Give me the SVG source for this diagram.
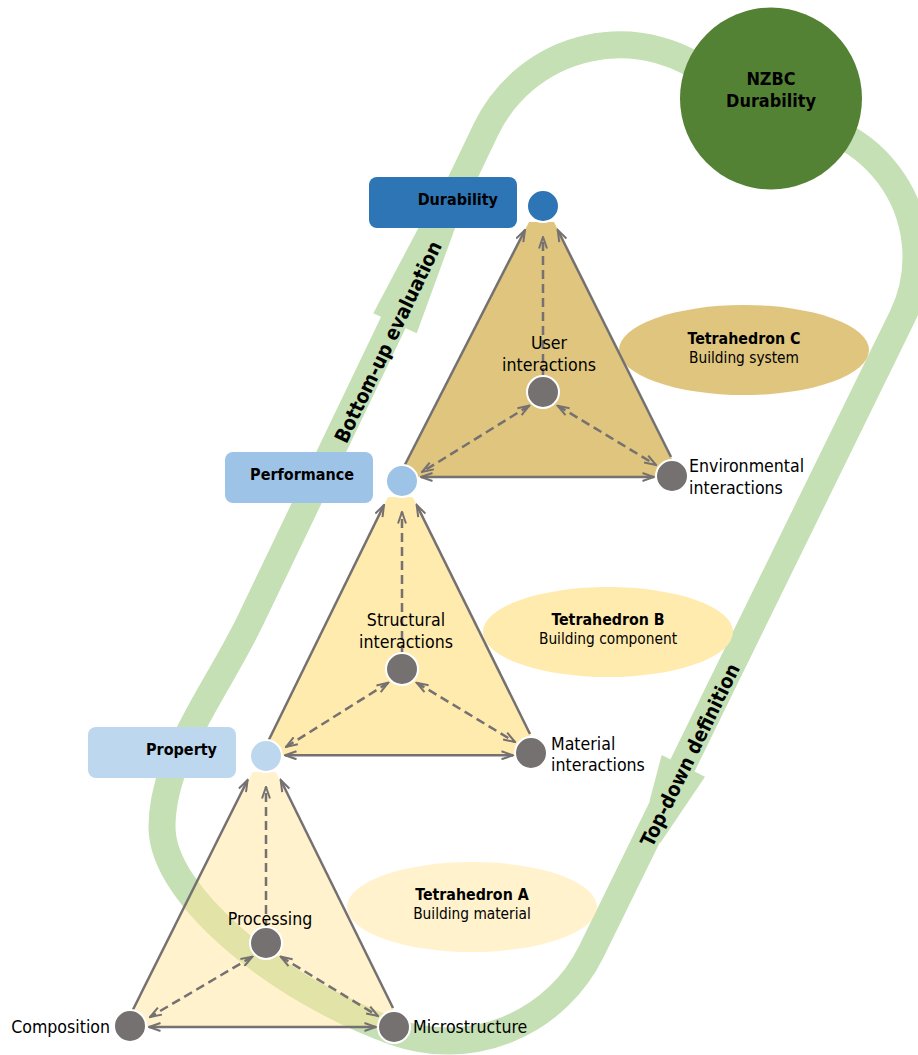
<svg xmlns="http://www.w3.org/2000/svg" width="918" height="1055" viewBox="0 0 918 1055">
<defs>
<style>
.band{fill:none;stroke:#C5E0B4;stroke-width:27;stroke-linejoin:round}
.bandfill{fill:#C5E0B4}
.edge{stroke:#767171;stroke-width:2.5;fill:none;stroke-linecap:butt}
.dash{stroke:#767171;stroke-width:2.5;fill:none;stroke-dasharray:9 5}
.gray{fill:#767171;stroke:#fff;stroke-width:2}
.t{font-family:'DejaVu Sans Condensed','DejaVu Sans',sans-serif;fill:#000}
.lbl{font-size:17.6px}
.bold{font-weight:bold}
.ellb{font-size:15.8px;font-weight:bold}
.ell{font-size:15.3px}
.box{font-size:16px;font-weight:bold;text-anchor:end}
.mid{text-anchor:middle}
.end{text-anchor:end}
</style>
<marker id="ah" viewBox="0 0 14 10" markerWidth="14" markerHeight="10" refX="12.5" refY="5" orient="auto-start-reverse" markerUnits="userSpaceOnUse">
<path d="M1,1 L12.5,5 L1,9" fill="none" stroke="#767171" stroke-width="2"/>
</marker>
</defs>

<g id="loop">
<path class="band" d="M486.1,129.2 A148.5,148.5 0 0 1 715.5,79.7 L755.2,122.1 A137,137 0 0 1 902,317.3 L591.4,951.4 A160,160 0 0 1 394,1031.7 C281,991.4 162,897 162,827 C162,757 216,692 250.6,620 Z"/>
<polygon class="bandfill" points="373.3,313.3 443.8,180 472.6,180 416.7,333.3"/>
<polygon class="bandfill" points="661.7,755 649.8,800 651,830 660.3,843 705,776.7"/>
<text class="t bold mid" font-size="20" transform="translate(388,342) rotate(-64.3)" dy="7">Bottom-up evaluation</text>
<text class="t bold mid" font-size="20" transform="translate(690,755) rotate(-63.9)" dy="7">Top-down definition</text>
</g>

<g id="tetrahedron-fills">
<polygon points="529,222 554,222 681,477 399,477" fill="#DFC57E"/>
<polygon points="387.9,497 412.7,497 540.9,756 260.9,756" fill="#FFEBAD"/>
<polygon points="252.6,772 275.8,772 402.3,1027 124.3,1027" fill="#FFE699" fill-opacity="0.5"/>
</g>

<g id="tetrahedron-C-label">
<ellipse cx="744" cy="350" rx="125" ry="45" fill="#DFC57E"/>
<text class="t ellb mid" x="744" y="344">Tetrahedron C</text>
<text class="t ell mid" x="744" y="363">Building system</text>
</g>
<g id="tetrahedron-B-label">
<ellipse cx="608" cy="632" rx="125" ry="45" fill="#FFEBAD"/>
<text class="t ellb mid" x="608" y="625">Tetrahedron B</text>
<text class="t ell mid" x="608" y="644">Building component</text>
</g>
<g id="tetrahedron-A-label">
<ellipse cx="472" cy="907" rx="125" ry="45" fill="#FFE699" fill-opacity="0.5"/>
<text class="t ellb mid" x="472" y="900">Tetrahedron A</text>
<text class="t ell mid" x="472" y="919">Building material</text>
</g>

<g id="connectors">
<line class="edge" x1="404.3" y1="466" x2="525" y2="230" marker-end="url(#ah)"/>
<line class="edge" x1="671" y1="457" x2="557.7" y2="230" marker-end="url(#ah)"/>
<line class="edge" x1="421" y1="477" x2="654" y2="477" marker-start="url(#ah)" marker-end="url(#ah)"/>
<line class="dash" x1="543" y1="377" x2="543" y2="237" marker-end="url(#ah)"/>
<line class="dash" x1="529.3" y1="405.7" x2="422" y2="472" marker-start="url(#ah)" marker-end="url(#ah)"/>
<line class="dash" x1="557.7" y1="405.7" x2="656" y2="465" marker-start="url(#ah)" marker-end="url(#ah)"/>

<line class="edge" x1="268.3" y1="741" x2="384" y2="505" marker-end="url(#ah)"/>
<line class="edge" x1="530" y1="734" x2="416.7" y2="505" marker-end="url(#ah)"/>
<line class="edge" x1="285" y1="755.3" x2="513" y2="755.3" marker-start="url(#ah)" marker-end="url(#ah)"/>
<line class="dash" x1="402" y1="654" x2="402" y2="512" marker-end="url(#ah)"/>
<line class="dash" x1="388.3" y1="682.7" x2="286" y2="747" marker-start="url(#ah)" marker-end="url(#ah)"/>
<line class="dash" x1="416.7" y1="682.7" x2="515" y2="742" marker-start="url(#ah)" marker-end="url(#ah)"/>

<line class="edge" x1="132.3" y1="1011" x2="247.6" y2="780" marker-end="url(#ah)"/>
<line class="edge" x1="393" y1="1008" x2="280.7" y2="780" marker-end="url(#ah)"/>
<line class="edge" x1="149" y1="1027" x2="376" y2="1027" marker-start="url(#ah)" marker-end="url(#ah)"/>
<line class="dash" x1="266" y1="928" x2="266" y2="787" marker-end="url(#ah)"/>
<line class="dash" x1="252.3" y1="956.7" x2="150" y2="1017" marker-start="url(#ah)" marker-end="url(#ah)"/>
<line class="dash" x1="280.7" y1="956.7" x2="378" y2="1016" marker-start="url(#ah)" marker-end="url(#ah)"/>
</g>

<g id="nzbc">
<circle cx="771" cy="98.5" r="91" fill="#548235"/>
<text class="t bold mid" font-size="17.9" x="771" y="85">NZBC</text>
<text class="t bold mid" font-size="17.9" x="771" y="107">Durability</text>
</g>

<g id="durability">
<rect x="369" y="177" width="148" height="51" rx="8" fill="#2E75B6"/>
<text class="t box" x="498" y="205">Durability</text>
<circle cx="543" cy="206" r="16" fill="#2E75B6" stroke="#fff" stroke-width="2"/>
</g>
<g id="performance">
<rect x="225" y="452" width="148" height="51" rx="8" fill="#9DC3E6"/>
<text class="t box" x="354" y="480">Performance</text>
<circle cx="402" cy="481" r="16" fill="#9DC3E6" stroke="#fff" stroke-width="2"/>
</g>
<g id="property">
<rect x="88" y="727" width="148" height="51" rx="8" fill="#BDD7EE"/>
<text class="t box" x="217" y="755">Property</text>
<circle cx="266" cy="756" r="16" fill="#BDD7EE" stroke="#fff" stroke-width="2"/>
</g>

<g id="user-interactions">
<text class="t lbl mid" x="549" y="349">User</text>
<text class="t lbl mid" x="549" y="371">interactions</text>
<circle class="gray" cx="543" cy="392" r="16"/>
</g>
<g id="environmental-interactions">
<circle class="gray" cx="672" cy="476" r="16"/>
<text class="t lbl" x="689" y="472">Environmental</text>
<text class="t lbl" x="689" y="494">interactions</text>
</g>
<g id="structural-interactions">
<text class="t lbl mid" x="406" y="626">Structural</text>
<text class="t lbl mid" x="406" y="648">interactions</text>
<circle class="gray" cx="402" cy="669" r="16"/>
</g>
<g id="material-interactions">
<circle class="gray" cx="531" cy="753" r="16"/>
<text class="t lbl" x="551" y="750">Material</text>
<text class="t lbl" x="551" y="771">interactions</text>
</g>
<g id="processing">
<text class="t lbl mid" x="270" y="925">Processing</text>
<circle class="gray" cx="266" cy="943" r="16"/>
</g>
<g id="composition">
<circle class="gray" cx="130" cy="1026" r="16"/>
<text class="t lbl end" x="110" y="1033">Composition</text>
</g>
<g id="microstructure">
<circle class="gray" cx="394" cy="1027" r="16"/>
<text class="t lbl" x="413" y="1033">Microstructure</text>
</g>
</svg>
